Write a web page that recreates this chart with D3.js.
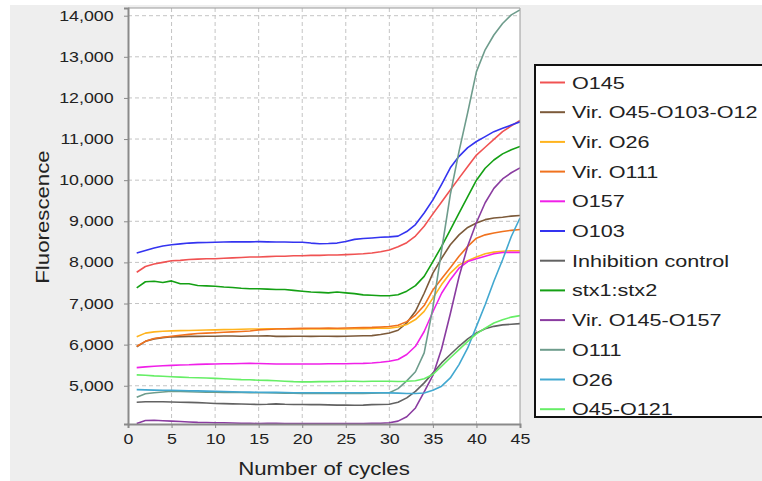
<!DOCTYPE html>
<html>
<head>
<meta charset="utf-8">
<script src="https://cdn.jsdelivr.net/npm/d3@7"></script>
<style>
	body { margin: 0; background: #fff; }
	svg { display: block; font-family: "Liberation Sans", Arial, sans-serif; }
	.grid line { stroke: #c4c4c4; stroke-dasharray: 4,3; }
	.series { fill: none; stroke-width: 1.6; stroke-linejoin: round; }
</style>
</head>
<body>
<div id="chart"></div>
<script>
	// amplification curves, cycles 1..45
	var cycles = d3.range(1, 46);

	var seriesNames = ["O145", "Vir. O45-O103-O12", "Vir. O26", "Vir. O111", "O157", "O103",
		"Inhibition control", "stx1:stx2", "Vir. O145-O157", "O111", "O26", "O45-O121"];
	var seriesColors = ["#f05252", "#7c5a3a", "#ffb41e", "#f0721e", "#f020e8", "#3434f0",
		"#626262", "#14a014", "#8a3ca0", "#6e9c8c", "#42a8d0", "#66ee66"];

	var o145 = [7760, 7900, 7960, 8000, 8040, 8050, 8070, 8080, 8090, 8090, 8100, 8110, 8120, 8130, 8130,
		8140, 8150, 8150, 8160, 8160, 8170, 8170, 8180, 8180, 8190, 8200, 8210, 8230, 8260, 8300,
		8380, 8480, 8640, 8880, 9180, 9470, 9760, 10050, 10330, 10610, 10800, 10990, 11180, 11320, 11450];
	var virO45O103O12 = [5945, 6080, 6140, 6170, 6190, 6195, 6200, 6200, 6205, 6205, 6210, 6210, 6205, 6210, 6210,
		6215, 6200, 6200, 6205, 6205, 6200, 6205, 6205, 6200, 6205, 6210, 6215, 6220, 6245, 6285,
		6350, 6530, 6810, 7250, 7740, 8100, 8430, 8670, 8850, 8960, 9040, 9080, 9100, 9125, 9140];
	var virO26 = [6190, 6280, 6310, 6325, 6335, 6340, 6345, 6350, 6355, 6360, 6365, 6370, 6375, 6380, 6380,
		6385, 6385, 6380, 6380, 6380, 6380, 6385, 6380, 6385, 6380, 6385, 6390, 6395, 6405, 6400,
		6430, 6490, 6610, 6810, 7130, 7460, 7740, 7940, 8040, 8130, 8210, 8250, 8270, 8285, 8285];
	var virO111 = [5960, 6080, 6150, 6180, 6205, 6230, 6250, 6270, 6280, 6290, 6300, 6310, 6320, 6330, 6360,
		6370, 6380, 6385, 6390, 6395, 6400, 6400, 6405, 6400, 6405, 6410, 6415, 6420, 6430, 6440,
		6470, 6560, 6720, 6950, 7330, 7600, 7870, 8150, 8390, 8590, 8670, 8715, 8750, 8780, 8800];
	var o157 = [5440, 5460, 5475, 5485, 5495, 5505, 5510, 5520, 5525, 5530, 5535, 5535, 5540, 5545, 5540,
		5535, 5530, 5530, 5530, 5530, 5530, 5530, 5535, 5535, 5535, 5540, 5545, 5555, 5570, 5595,
		5640, 5760, 5960, 6320, 6800, 7250, 7580, 7860, 8020, 8090, 8150, 8210, 8240, 8245, 8245];
	var o103 = [8230, 8290, 8350, 8400, 8430, 8450, 8470, 8480, 8485, 8490, 8495, 8500, 8500, 8500, 8505,
		8500, 8495, 8495, 8490, 8490, 8470, 8455, 8460, 8470, 8510, 8560, 8580, 8595, 8610, 8620,
		8640, 8750, 8920, 9200, 9520, 9900, 10300, 10580, 10790, 10940, 11060, 11180, 11260, 11340, 11420];
	var inhibition = [4600, 4610, 4610, 4610, 4605, 4600, 4595, 4590, 4580, 4570, 4565, 4560, 4555, 4550, 4545,
		4550, 4560, 4550, 4545, 4545, 4540, 4540, 4535, 4530, 4530, 4525, 4530, 4540, 4545, 4550,
		4600, 4705, 4865, 5070, 5310, 5555, 5760, 5960, 6140, 6285, 6385, 6445, 6480, 6495, 6510];
	var stx = [7380, 7530, 7540, 7510, 7550, 7480, 7480, 7440, 7430, 7420, 7400, 7390, 7370, 7360, 7360,
		7350, 7340, 7340, 7320, 7300, 7280, 7270, 7260, 7280, 7260, 7240, 7210, 7200, 7190, 7190,
		7215, 7300, 7435, 7660, 8020, 8390, 8790, 9200, 9600, 10000, 10290, 10490, 10640, 10740, 10820];
	var virO145O157 = [4083, 4155, 4160, 4150, 4140, 4130, 4120, 4110, 4105, 4100, 4100, 4095, 4090, 4085, 4083,
		4085, 4085, 4080, 4080, 4080, 4080, 4080, 4080, 4080, 4080, 4080, 4080, 4085, 4090, 4100,
		4140, 4245, 4460, 4850, 5250, 5900, 6750, 7650, 8400, 8970, 9450, 9800, 10030, 10180, 10300];
	var o111 = [4720, 4805, 4830, 4850, 4865, 4860, 4855, 4850, 4845, 4843, 4840, 4838, 4835, 4830, 4830,
		4830, 4825, 4820, 4820, 4815, 4815, 4815, 4810, 4815, 4815, 4815, 4815, 4820, 4825, 4830,
		4930, 5120, 5340, 5800, 6900, 8300, 9650, 10700, 11650, 12640, 13170, 13530, 13810, 14020, 14140];
	var o26 = [4905, 4900, 4895, 4890, 4890, 4885, 4880, 4875, 4870, 4868, 4860, 4855, 4850, 4845, 4843,
		4840, 4840, 4835, 4830, 4830, 4830, 4830, 4828, 4830, 4830, 4830, 4830, 4830, 4830, 4828,
		4820, 4812, 4810, 4825, 4890, 4990, 5190, 5515, 5920, 6445, 6970, 7540, 8065, 8630, 9080];
	var o45O121 = [5265, 5255, 5240, 5230, 5220, 5210, 5200, 5195, 5190, 5180, 5170, 5160, 5150, 5145, 5135,
		5130, 5120, 5110, 5100, 5095, 5095, 5100, 5100, 5105, 5110, 5110, 5105, 5110, 5110, 5110,
		5105, 5110, 5120, 5170, 5275, 5475, 5680, 5880, 6080, 6260, 6400, 6525, 6605, 6670, 6705];

	var seriesValues = [o145, virO45O103O12, virO26, virO111, o157, o103,
		inhibition, stx, virO145O157, o111, o26, o45O121];

	var xTicks = [0, 5, 10, 15, 20, 25, 30, 35, 40, 45];
	var yTicks = [5000, 6000, 7000, 8000, 9000, 10000, 11000, 12000, 13000, 14000];

	const WIDTH = 762;
	const HEIGHT = 481;
	const STRETCH = 1.27; // the reference text is drawn wide
	var plot = { left: 128, right: 520, top: 8, bottom: 424 };

	var svg = d3.select("#chart").append("svg")
		.attr("width", WIDTH)
		.attr("height", HEIGHT);

	svg.append("rect")
		.attr("x", 10).attr("y", 5)
		.attr("width", WIDTH).attr("height", HEIGHT)
		.attr("fill", "#eeeeee");

	var x = d3.scaleLinear().domain([0, 45]).range([plot.left, plot.right]);
	var y = d3.scaleLinear().domain([4070, 14187]).range([plot.bottom, plot.top]);

	svg.append("rect")
		.attr("x", plot.left).attr("y", plot.top)
		.attr("width", plot.right - plot.left).attr("height", plot.bottom - plot.top)
		.attr("fill", "#fff");

	// dashed grid
	var grid = svg.append("g").attr("class", "grid");
	grid.selectAll(".gx")
		.data(xTicks.filter(function(d) { return d > 0 && d < 45; }))
		.enter().append("line")
		.attr("x1", function(d) { return x(d); }).attr("x2", function(d) { return x(d); })
		.attr("y1", plot.top).attr("y2", plot.bottom);
	grid.selectAll(".gy")
		.data(yTicks)
		.enter().append("line")
		.attr("x1", plot.left).attr("x2", plot.right)
		.attr("y1", function(d) { return y(d); }).attr("y2", function(d) { return y(d); });

	// curves
	var clip = svg.append("clipPath").attr("id", "plot-clip")
		.append("rect")
		.attr("x", plot.left).attr("y", plot.top)
		.attr("width", plot.right - plot.left).attr("height", plot.bottom - plot.top);

	var line = d3.line()
		.x(function(d, i) { return x(cycles[i]); })
		.y(function(d) { return y(d); });

	svg.append("g")
		.attr("clip-path", "url(#plot-clip)")
		.selectAll("path")
		.data(seriesValues)
		.enter().append("path")
		.attr("class", "series")
		.attr("stroke", function(d, i) { return seriesColors[i]; })
		.attr("d", line);

	// frame: thin top/right, heavier axes
	svg.append("path")
		.attr("d", "M" + plot.left + "," + plot.top + "H" + plot.right + "V" + plot.bottom)
		.attr("fill", "none").attr("stroke", "#9a9a9a").attr("stroke-width", 1);

	var xAxis = svg.append("g")
		.attr("transform", "translate(0," + plot.bottom + ")")
		.call(d3.axisBottom(x).tickValues(xTicks).tickSize(4).tickPadding(6).tickFormat(d3.format("d")));
	var yAxis = svg.append("g")
		.attr("transform", "translate(" + plot.left + ",0)")
		.call(d3.axisLeft(y).tickValues(yTicks).tickSize(4).tickPadding(5).tickFormat(d3.format(",")));

	[xAxis, yAxis].forEach(function(ax) {
		ax.select(".domain").attr("stroke", "#8a8a8a").attr("stroke-width", 2);
		ax.selectAll(".tick line").attr("stroke", "#8a8a8a");
		ax.selectAll(".tick text")
			.attr("fill", "#222")
			.style("font-size", "14px")
			.style("font-family", "'Liberation Sans', Arial, sans-serif");
	});

	// stretch tick labels horizontally about their anchor
	xAxis.selectAll(".tick text")
		.attr("transform", "scale(" + STRETCH + ",1)");
	yAxis.selectAll(".tick text")
		.attr("transform", "translate(-3,0) scale(" + STRETCH + ",1)");

	// axis titles
	svg.append("text")
		.attr("transform", "translate(" + ((plot.left + plot.right) / 2) + ",475) scale(" + STRETCH + ",1)")
		.attr("text-anchor", "middle")
		.attr("fill", "#222")
		.style("font-size", "17.5px")
		.text("Number of cycles");

	svg.append("text")
		.attr("transform", "translate(49,217) rotate(-90) scale(" + STRETCH + ",1)")
		.attr("text-anchor", "middle")
		.attr("fill", "#222")
		.style("font-size", "17.5px")
		.text("Fluorescence");

	// legend
	var legend = svg.append("g").attr("transform", "translate(535,65)");
	legend.append("rect")
		.attr("x", 0).attr("y", 0)
		.attr("width", 240).attr("height", 352)
		.attr("fill", "#fff")
		.attr("stroke", "#111")
		.attr("stroke-width", 2);

	var item = legend.selectAll(".item")
		.data(seriesNames)
		.enter().append("g")
		.attr("class", "item")
		.attr("transform", function(d, i) { return "translate(0," + (17.5 + i * 29.7) + ")"; });

	item.append("line")
		.attr("x1", 5).attr("x2", 30)
		.attr("stroke", function(d, i) { return seriesColors[i]; })
		.attr("stroke-width", 2);

	item.append("text")
		.attr("transform", "translate(37,6) scale(" + STRETCH + ",1)")
		.attr("fill", "#222")
		.style("font-size", "17px")
		.text(function(d) { return d; });
</script>
</body>
</html>
